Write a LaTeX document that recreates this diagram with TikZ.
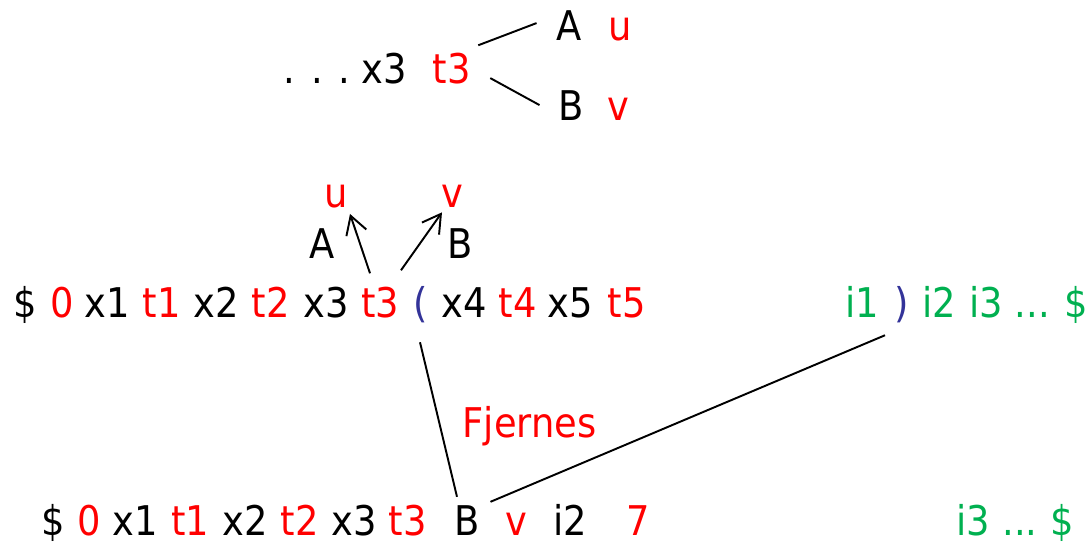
\documentclass[tikz,border=0pt]{standalone}
\usepackage{fontspec}
\setmainfont{DejaVu Sans Condensed}
\usepackage{tikz}
\usetikzlibrary{arrows.meta,calc}
\definecolor{tokred}{RGB}{255,0,0}
\definecolor{tokgreen}{RGB}{0,176,80}
\definecolor{tokblue}{RGB}{51,51,153}
\tikzset{
  tok/.style={inner sep=0pt,anchor=base,font=\fontsize{23.3}{28}\selectfont},
  redtok/.style={tok,text=tokred},
  greentok/.style={tok,text=tokgreen},
  bluetok/.style={tok,text=tokblue},
  link/.style={line width=1.1pt},
  pointer/.style={line width=1.1pt,-{Straight Barb[length=3.6mm,width=4.2mm]}}
}

\begin{document}
\begin{tikzpicture}[x=0.02cm,y=-0.02cm]
  \useasboundingbox (0,0) rectangle (1090,545);
  \node[tok] (dots) at (317,83) {. . .};
  \node[tok] (x3top) at (384,83) {x3};
  \node[redtok] (t3top) at (451.5,83) {t3};
  \node[tok] (Atop) at (569.5,40) {A};
  \node[redtok] (utop) at (620,40) {u};
  \node[tok] (Btop) at (571.5,120) {B};
  \node[redtok] (vtop) at (618.5,120) {v};
  \draw[link] ($(t3top.north east)+(7.5,-7)$) -- ($(Atop.west)+(-20,-2)$);
  \draw[link] ($(t3top.east)+(19.5,10)$) -- ($(Btop.west)+(-19,0)$);
  \node[redtok] (umid) at (336,207) {u};
  \node[redtok] (vmid) at (452,207) {v};
  \node[tok] (Amid) at (322.5,258) {A};
  \node[tok] (Bmid) at (460,258) {B};
  \node[tok] (s1) at (25,317) {\$};
  \node[redtok] (z1) at (62,317) {0};
  \node[tok] (x1) at (107,317) {x1};
  \node[redtok] (t1) at (161.5,317) {t1};
  \node[tok] (x2) at (216.5,317) {x2};
  \node[redtok] (t2) at (270.5,317) {t2};
  \node[tok] (x3) at (326,317) {x3};
  \node[redtok] (t3) at (380,317) {t3};
  \node[bluetok] (lpar) at (421,317) {(};
  \node[tok] (x4) at (464.5,317) {x4};
  \node[redtok] (t4) at (517.5,317) {t4};
  \node[tok] (x5) at (570.5,317) {x5};
  \node[redtok] (t5) at (626.5,317) {t5};
  \node[greentok] (i1) at (862.5,317) {i1};
  \node[bluetok] (rpar) at (901.5,317) {)};
  \node[greentok] (i2) at (939,317) {i2};
  \node[greentok] (i3) at (986,317) {i3};
  \node[greentok] (e1) at (1032.5,317) {...};
  \node[greentok] (s2) at (1076,317) {\$};
  \draw[pointer] ($(t3.north)+(-10,-13)$) -- ($(umid.south)+(14,6)$);
  \draw[pointer] ($(t3.north)+(21,-16)$) -- ($(vmid.south)+(-10,5)$);
  \node[redtok] (fj) at (529.5,437) {Fjernes};
  \node[tok] (s3) at (53,535) {\$};
  \node[redtok] (z2) at (89,535) {0};
  \node[tok] (x1b) at (135,535) {x1};
  \node[redtok] (t1b) at (190,535) {t1};
  \node[tok] (x2b) at (245,535) {x2};
  \node[redtok] (t2b) at (299.5,535) {t2};
  \node[tok] (x3b) at (354,535) {x3};
  \node[redtok] (t3b) at (407.5,535) {t3};
  \node[tok] (Bbot) at (467.5,535) {B};
  \node[redtok] (vbot) at (516,535) {v};
  \node[tok] (i2b) at (570,535) {i2};
  \node[redtok] (sev) at (638,535) {7};
  \node[greentok] (i3b) at (973,535) {i3};
  \node[greentok] (e2) at (1020,535) {...};
  \node[greentok] (s4) at (1062.5,535) {\$};
  \draw[link] ($(lpar.south)+(-1,19.5)$) -- ($(Bbot.north)+(-10.5,-8)$);
  \draw[link] ($(rpar.south)+(-16.5,12.5)$) -- ($(Bbot.north east)+(10,-3)$);
\end{tikzpicture}
\end{document}
